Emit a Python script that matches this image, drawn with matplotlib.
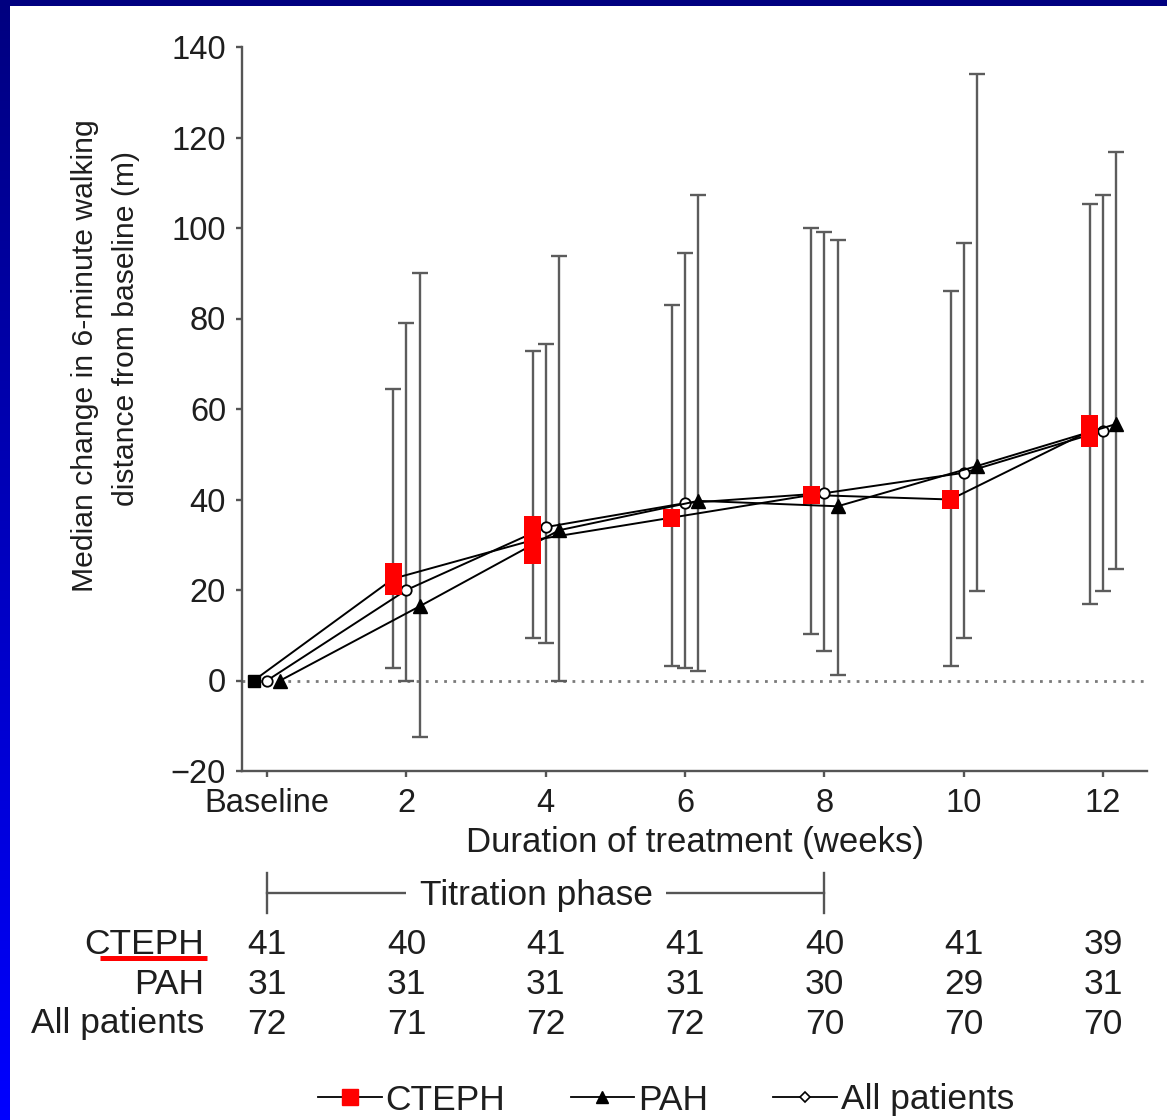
import matplotlib
matplotlib.use("Agg")
import matplotlib.pyplot as plt
import matplotlib.transforms as mtransforms
from matplotlib.colors import LinearSegmentedColormap
from matplotlib.lines import Line2D
from matplotlib.patches import Rectangle
import numpy as np

# ---- data ---------------------------------------------------------------
WEEKS = [0, 2, 4, 6, 8, 10, 12]
TICK_LABELS = ["Baseline", "2", "4", "6", "8", "10", "12"]

CTEPH_MEDIAN = [0, 22.5, 31.0, 36.0, 41.0, 40.0, 55.2]
CTEPH_HIGH = [0, 64.5, 72.9, 82.9, 100.1, 86.0, 105.4]
CTEPH_LOW = [0, 2.7, 9.5, 3.3, 10.2, 3.1, 16.8]

PAH_MEDIAN = [0, 16.4, 33.2, 39.7, 38.5, 47.4, 56.7]
PAH_HIGH = [0, 90.0, 93.9, 107.4, 97.3, 134.0, 116.7]
PAH_LOW = [0, -12.4, 0.0, 2.2, 1.3, 19.7, 24.6]

ALL_MEDIAN = [0, 20.0, 33.9, 39.2, 41.4, 45.9, 55.2]
ALL_HIGH = [0, 78.9, 74.4, 94.4, 99.2, 96.6, 107.4]
ALL_LOW = [0, 0.0, 8.2, 2.7, 6.6, 9.5, 19.7]

N_CTEPH = [41, 40, 41, 41, 40, 41, 39]
N_PAH = [31, 31, 31, 31, 30, 29, 31]
N_ALL = [72, 71, 72, 72, 70, 70, 70]

# ---- style ---------------------------------------------------------------
W, H = 1167, 1120
FONT = "Liberation Sans"
GREY = "#555555"
BAR_GREY = "#5c5c5c"
TXT = "#1e1e1e"
OFFSET = 0.19                       # horizontal dodge between groups (weeks)
HIGHLIGHT_H = [0, 7.0, 10.5, 4.0, 4.0, 4.0, 7.0]   # red overlay heights
HIGHLIGHT_W = 0.245

plt.rcParams["font.family"] = [FONT, "DejaVu Sans"]


def fx(px):
    return px / W


def fy(py):
    return 1 - py / H


fig = plt.figure(figsize=(W / 100, H / 100), dpi=100)

# blue slide frame
bg = fig.add_axes([0, 0, 1, 1], zorder=-10)
grad = np.linspace(0, 1, 256).reshape(-1, 1)
cmap = LinearSegmentedColormap.from_list("frame", ["#000080", "#0000ff"])
bg.imshow(grad, cmap=cmap, aspect="auto", extent=[0, 1, 0, 1], origin="upper")
bg.add_patch(Rectangle((fx(10), 0), 1 - fx(10), fy(6), transform=bg.transAxes,
                       facecolor="white", edgecolor="none"))
bg.set_xlim(0, 1)
bg.set_ylim(0, 1)
bg.axis("off")

ax = fig.add_axes([fx(242), fy(771), fx(1147) - fx(242), fy(47) - fy(771)])
ax.set_facecolor("none")

x = np.array(WEEKS, dtype=float)
series = [
    (x - OFFSET, CTEPH_MEDIAN, CTEPH_LOW, CTEPH_HIGH, dict(marker="s", ms=8, mfc="black", mec="black")),
    (x, ALL_MEDIAN, ALL_LOW, ALL_HIGH, dict(marker="o", ms=7.5, mfc="white", mec="black", mew=1.3)),
    (x + OFFSET, PAH_MEDIAN, PAH_LOW, PAH_HIGH, dict(marker="^", ms=9.5, mfc="black", mec="black")),
]

for xs, med, low, high, mk in series:
    med = np.array(med)
    yerr = [med[1:] - np.array(low[1:]), np.array(high[1:]) - med[1:]]
    ax.errorbar(xs[1:], med[1:], yerr=yerr, fmt="none", ecolor=BAR_GREY,
                elinewidth=1.7, capsize=6, capthick=1.7, zorder=2)

for xs, med, low, high, mk in series:
    ax.plot(xs, med, color="black", lw=1.4, zorder=3, **mk)

# red highlight boxes over the CTEPH points
for xi, yi, h in zip(x - OFFSET, CTEPH_MEDIAN, HIGHLIGHT_H):
    if h > 0:
        ax.add_patch(Rectangle((xi - HIGHLIGHT_W / 2, yi - h / 2), HIGHLIGHT_W, h,
                               facecolor="red", edgecolor="none", zorder=5))

ax.axhline(0, color="#7a7a7a", lw=2.0, ls=(0, (1, 2.3)), zorder=1)

ax.set_xlim(-0.36, 12.63)
ax.set_ylim(-20, 140)
ax.set_xticks(WEEKS)
ax.set_xticklabels(TICK_LABELS)
ax.set_yticks(range(-20, 141, 20))
ax.set_yticklabels(["\u221220"] + [str(v) for v in range(0, 141, 20)])

for side in ("top", "right"):
    ax.spines[side].set_visible(False)
for side in ("left", "bottom"):
    ax.spines[side].set_color(GREY)
    ax.spines[side].set_linewidth(1.7)
ax.tick_params(direction="out", length=4.5, width=1.7, color=GREY,
               labelsize=23.5, labelcolor=TXT)
ax.tick_params(axis="x", pad=8)
ax.tick_params(axis="y", pad=7)

ax.set_xlabel("Duration of treatment (weeks)", fontsize=25, color=TXT, labelpad=5)

fig.text(fx(85), fy(356), "Median change in 6-minute walking", rotation=90,
         ha="center", va="center", fontsize=21.7, color=TXT)
fig.text(fx(126), fy(328), "distance from baseline (m)", rotation=90,
         ha="center", va="center", fontsize=21.7, color=TXT)

# titration bracket and patient counts, x positioned on the data scale
trans = mtransforms.blended_transform_factory(ax.transData, fig.transFigure)
ybr = fy(893)
fig.add_artist(Line2D([0, 8], [ybr, ybr], transform=trans, color=GREY, lw=1.7))
for xc in (0, 8):
    fig.add_artist(Line2D([xc, xc], [fy(873), fy(913)], transform=trans, color=GREY, lw=1.7))
fig.text(3.86, fy(896), "Titration phase", transform=trans, ha="center", va="center",
         fontsize=25.5, color=TXT,
         bbox=dict(facecolor="white", edgecolor="none", pad=10))

rows = [("CTEPH", N_CTEPH, 944), ("PAH", N_PAH, 984), ("All patients", N_ALL, 1024)]
for label, counts, py in rows:
    fig.text(fx(204), fy(py), label, ha="right", va="center", fontsize=25.5, color=TXT)
    for w, n in zip(WEEKS, counts):
        fig.text(w, fy(py), str(n), transform=trans, ha="center", va="center",
                 fontsize=25.5, color=TXT)

fig.add_artist(Line2D([fx(100), fx(207)], [fy(958), fy(958)], transform=fig.transFigure,
                      color="red", lw=3.6, solid_capstyle="butt"))

handles = [
    Line2D([], [], color="black", lw=1.3, marker="s", ms=11, mfc="red", mec="red"),
    Line2D([], [], color="black", lw=1.3, marker="^", ms=8, mfc="black", mec="black"),
    Line2D([], [], color="black", lw=1.3, marker="D", ms=5.5, mfc="white", mec="black", mew=1.2),
]
fig.legend(handles, ["CTEPH", "PAH", "All patients"], loc="center",
           bbox_to_anchor=(fx(666), fy(1100)), ncol=3, frameon=False,
           fontsize=25.5, handlelength=1.8, handletextpad=0.1,
           columnspacing=1.85, borderaxespad=0, labelcolor=TXT)

fig.savefig("out.png", dpi=100)
